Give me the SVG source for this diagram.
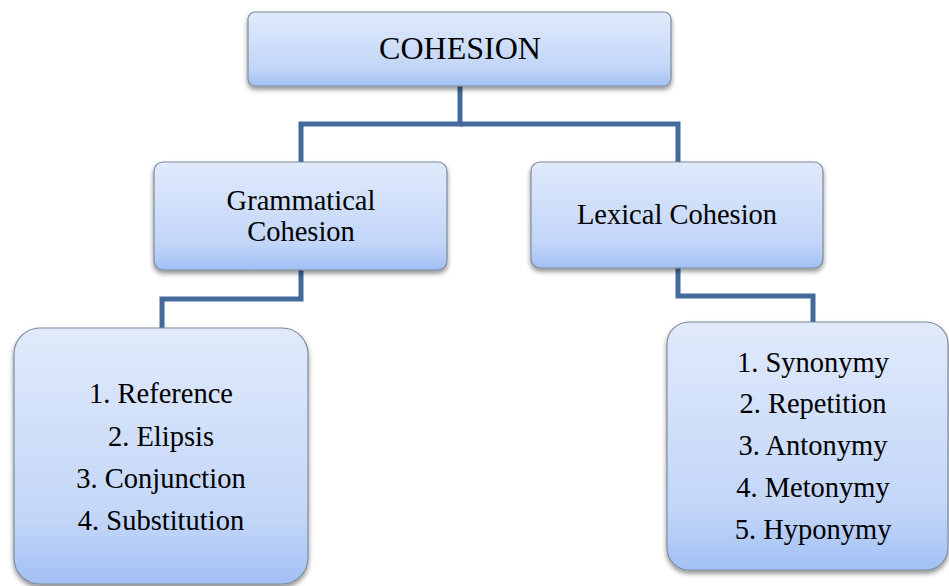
<svg xmlns="http://www.w3.org/2000/svg" width="949" height="586" viewBox="0 0 949 586">
<defs>
<linearGradient id="g" x1="0" y1="0" x2="0" y2="1">
<stop offset="0" stop-color="#e0eafb"/>
<stop offset="0.75" stop-color="#c3d6f8"/>
<stop offset="1" stop-color="#a2c0f4"/>
</linearGradient>
<filter id="sh" x="-10%" y="-10%" width="120%" height="130%">
<feGaussianBlur in="SourceAlpha" stdDeviation="2.5"/>
<feOffset dx="0" dy="3" result="b"/>
<feComponentTransfer><feFuncA type="linear" slope="0.45"/></feComponentTransfer>
<feMerge><feMergeNode/><feMergeNode in="SourceGraphic"/></feMerge>
</filter>
</defs>
<style>
.box{fill:url(#g);stroke:#7f8b9c;stroke-width:1.2;filter:url(#sh)}
text{font-family:'Liberation Serif','Times New Roman',serif;font-size:28.5px;fill:#000;text-anchor:middle}
.c{fill:none;stroke:#44699b;stroke-width:5;stroke-linejoin:miter}
</style>
<g id="connectors">
<polyline class="c" points="460,86 460,124 301,124 301,162"/>
<polyline class="c" points="460,124 678,124 678,162"/>
<polyline class="c" points="301,270 301,299 162,299 162,329"/>
<polyline class="c" points="678,268 678,296 813,296 813,322"/>
</g>
<g id="cohesion">
<rect class="box" x="248" y="12" width="423" height="74" rx="7"/>
<text x="460" y="59" style="font-size:32px">COHESION</text>
</g>
<g id="grammatical">
<rect class="box" x="154" y="162" width="293" height="108" rx="9"/>
<text x="301" y="210">Grammatical</text>
<text x="301" y="241">Cohesion</text>
</g>
<g id="lexical">
<rect class="box" x="531" y="162" width="292" height="106" rx="9"/>
<text x="677" y="224">Lexical Cohesion</text>
</g>
<g id="grammatical-list">
<rect class="box" x="14" y="328" width="294" height="256" rx="26"/>
<text x="161" y="403">1. Reference</text>
<text x="161" y="446">2. Elipsis</text>
<text x="161" y="488">3. Conjunction</text>
<text x="161" y="530">4. Substitution</text>
</g>
<g id="lexical-list">
<rect class="box" x="667" y="322" width="281" height="248" rx="22"/>
<text x="813" y="372">1. Synonymy</text>
<text x="813" y="413">2. Repetition</text>
<text x="813" y="455">3. Antonymy</text>
<text x="813" y="497">4. Metonymy</text>
<text x="813" y="539">5. Hyponymy</text>
</g>
</svg>
